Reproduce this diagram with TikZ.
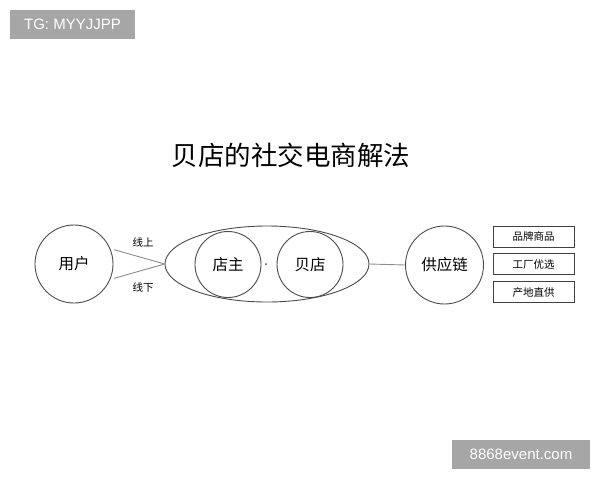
\documentclass[tikz,border=0pt]{standalone}
\usepackage{fontspec}
\setmainfont{Noto Sans CJK SC}
\newfontfamily\latinfont{Liberation Sans}
\usetikzlibrary{positioning,shapes.geometric}

\begin{document}
\begin{tikzpicture}[
    x=1pt, y=-1pt,
    node distance=6pt,
    ring/.style={draw=black!70, line width=0.9pt, circle, inner sep=0pt, font=\fontsize{15.5}{15.5}\selectfont},
    tag/.style={draw=black!75, line width=0.8pt, minimum width=81pt, minimum height=21pt, inner sep=0pt, font=\fontsize{10.5}{10.5}\selectfont},
    wm/.style={fill=black!35, text=white, inner sep=0pt, font=\latinfont\fontsize{15}{15}\selectfont},
    link/.style={draw=black!45, line width=0.9pt},
]
\useasboundingbox[fill=white] (0,0) rectangle (600,480);

% Watermarks
\node[wm, minimum width=125pt, minimum height=29pt] (tg) at (72.5,24.5) {TG: MYYJJPP};
\node[wm, minimum width=138pt, minimum height=29pt] (site) at (521,454.5) {8868event.com};

% Title
\node[font=\fontsize{26.5}{26.5}\selectfont] (title) at (291,155) {贝店的社交电商解法};

% Users
\node[ring, minimum size=78pt] (user) at (74,264) {用户};

% Shop
\node[draw=black!70, line width=0.9pt, ellipse, inner sep=0pt, minimum width=204pt, minimum height=76pt] (shell) at (267,264) {};
\node[ring, minimum size=66pt] (owner) at (228,264.5) {店主};
\node[ring, minimum size=66pt] (beidian) at (310,264.5) {贝店};
\node[circle, fill=black!70, inner sep=0pt, minimum size=2pt] (dot) at (266,264) {};

% Supply chain
\node[ring, minimum size=78pt] (supply) at (444.5,265) {供应链};

% Supply sources
\node[tag] (brand) at (533.5,236.5) {品牌商品};
\node[tag, below=of brand] (factory) {工厂优选};
\node[tag, below=of factory] (origin) {产地直供};

% Online / offline
\draw[link, shorten <=4pt] (user.23) -- (shell.west);
\draw[link, shorten <=4pt] (user.-23) -- (shell.west);
\node[font=\fontsize{10.5}{10.5}\selectfont] (online) at (143,242) {线上};
\node[font=\fontsize{10.5}{10.5}\selectfont] (offline) at (143,287) {线下};

% Shop to supply chain
\draw[link] (shell.east) -- (supply.west);

\end{tikzpicture}
\end{document}
